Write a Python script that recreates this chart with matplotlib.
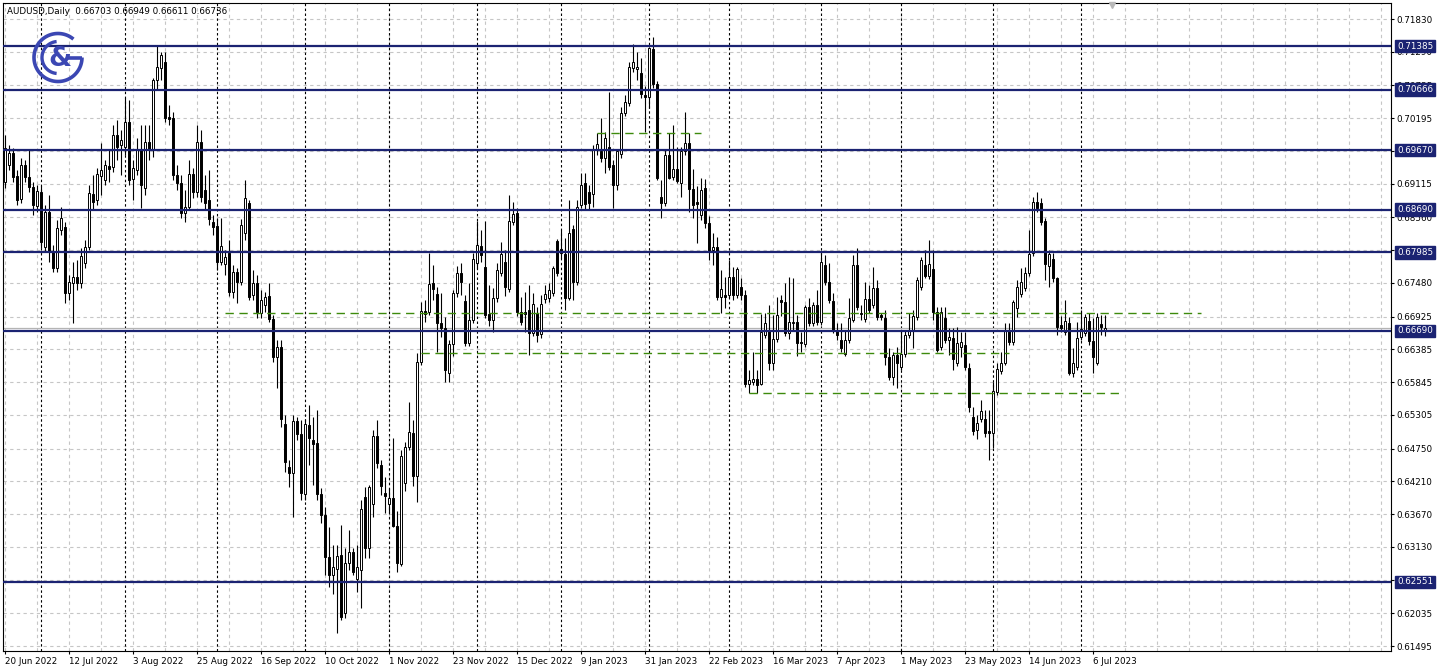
import numpy as np
import pandas as pd
import matplotlib
matplotlib.use("Agg")
import matplotlib.pyplot as plt
from matplotlib import transforms

opens = [
    0.6914, 0.6942, 0.6962, 0.6924, 0.6886, 0.6942, 0.6923, 0.6906, 0.6875, 0.6898,
    0.6807, 0.6865, 0.6799, 0.6773, 0.6835, 0.6840, 0.6732, 0.6748, 0.6758, 0.6748,
    0.6781, 0.6807, 0.6895, 0.6885, 0.6925, 0.6918, 0.6941, 0.6939, 0.6992, 0.6975,
    0.6972, 0.7013, 0.6919, 0.6934, 0.6967, 0.6904, 0.6980, 0.6967, 0.7082, 0.7102,
    0.7112, 0.7022, 0.7020, 0.6926, 0.6913, 0.6863, 0.6873, 0.6928, 0.6898, 0.6980,
    0.6901, 0.6885, 0.6848, 0.6842, 0.6783, 0.6779, 0.6797, 0.6733, 0.6766, 0.6750,
    0.6830, 0.6880, 0.6728, 0.6748, 0.6699, 0.6712, 0.6727, 0.6689, 0.6626, 0.6643,
    0.6516, 0.6445, 0.6435, 0.6520, 0.6499, 0.6400, 0.6514, 0.6489, 0.6484, 0.6400,
    0.6366, 0.6296, 0.6267, 0.6277, 0.6300, 0.6204, 0.6287, 0.6305, 0.6260, 0.6275,
    0.6395, 0.6311, 0.6384, 0.6496, 0.6448, 0.6402, 0.6384, 0.6394, 0.6347, 0.6285,
    0.6418, 0.6478, 0.6501, 0.6430, 0.6618, 0.6702, 0.6700, 0.6748, 0.6730, 0.6682,
    0.6674, 0.6600, 0.6647, 0.6732, 0.6764, 0.6718, 0.6649, 0.6687, 0.6781, 0.6809,
    0.6774, 0.6697, 0.6687, 0.6723, 0.6764, 0.6783, 0.6738, 0.6848, 0.6863, 0.6700,
    0.6700, 0.6703, 0.6666, 0.6699, 0.6664, 0.6722, 0.6723, 0.6732, 0.6817, 0.6804,
    0.6796, 0.6723, 0.6837, 0.6750, 0.6877, 0.6913, 0.6898, 0.6895, 0.6967, 0.6965,
    0.6954, 0.6972, 0.6942, 0.6910, 0.6961, 0.7028, 0.7045, 0.7102, 0.7101, 0.7094,
    0.7058, 0.7054, 0.7134, 0.7076, 0.6890, 0.6880, 0.6959, 0.6923, 0.6936, 0.6913,
    0.6965, 0.6979, 0.6903, 0.6881, 0.6860, 0.6904, 0.6847, 0.6802, 0.6807, 0.6725,
    0.6728, 0.6728, 0.6758, 0.6728, 0.6741, 0.6728, 0.6582, 0.6585, 0.6590, 0.6582,
    0.6662, 0.6670, 0.6616, 0.6656, 0.6720, 0.6717, 0.6666, 0.6682, 0.6684, 0.6651,
    0.6647, 0.6708, 0.6682, 0.6712, 0.6684, 0.6778, 0.6750, 0.6718, 0.6669, 0.6654,
    0.6631, 0.6654, 0.6687, 0.6778, 0.6697, 0.6689, 0.6722, 0.6712, 0.6740, 0.6695,
    0.6690, 0.6626, 0.6593, 0.6629, 0.6610, 0.6631, 0.6662, 0.6670, 0.6692, 0.6741,
    0.6778, 0.6759, 0.6771, 0.6700, 0.6643, 0.6690, 0.6654, 0.6657, 0.6616, 0.6643,
    0.6646, 0.6608, 0.6527, 0.6506, 0.6524, 0.6524, 0.6504, 0.6501, 0.6568, 0.6603,
    0.6616, 0.6669, 0.6651, 0.6707, 0.6730, 0.6740, 0.6764, 0.6797, 0.6881, 0.6880,
    0.6850, 0.6776, 0.6788, 0.6756, 0.6679, 0.6667, 0.6682, 0.6600, 0.6610, 0.6659,
    0.6666, 0.6685, 0.6652, 0.6616, 0.6680, 0.66703,
]
highs = [
    0.6992, 0.6975, 0.6970, 0.6934, 0.6954, 0.6951, 0.6967, 0.6914, 0.6910, 0.6908,
    0.6877, 0.6893, 0.6811, 0.6852, 0.6873, 0.6848, 0.6761, 0.6783, 0.6786, 0.6806,
    0.6819, 0.6910, 0.6926, 0.6937, 0.6979, 0.6951, 0.6967, 0.7008, 0.7017, 0.7000,
    0.7053, 0.7050, 0.6951, 0.6987, 0.7008, 0.7008, 0.7008, 0.7086, 0.7140, 0.7129,
    0.7129, 0.7041, 0.7030, 0.6942, 0.6926, 0.6901, 0.6951, 0.6937, 0.7008, 0.7000,
    0.6926, 0.6934, 0.6860, 0.6855, 0.6855, 0.6802, 0.6819, 0.6778, 0.6773, 0.6853,
    0.6918, 0.6885, 0.6769, 0.6761, 0.6736, 0.6733, 0.6748, 0.6695, 0.6654, 0.6654,
    0.6530, 0.6456, 0.6530, 0.6527, 0.6522, 0.6524, 0.6547, 0.6527, 0.6539, 0.6410,
    0.6379, 0.6346, 0.6316, 0.6316, 0.6349, 0.6311, 0.6341, 0.6311, 0.6316, 0.6390,
    0.6412, 0.6415, 0.6506, 0.6522, 0.6456, 0.6428, 0.6410, 0.6492, 0.6372, 0.6473,
    0.6486, 0.6552, 0.6522, 0.6633, 0.6717, 0.6720, 0.6797, 0.6778, 0.6741, 0.6732,
    0.6692, 0.6654, 0.6736, 0.6776, 0.6781, 0.6728, 0.6748, 0.6797, 0.6850, 0.6835,
    0.6850, 0.6745, 0.6740, 0.6781, 0.6816, 0.6802, 0.6893, 0.6881, 0.6872, 0.6725,
    0.6733, 0.6745, 0.6732, 0.6708, 0.6728, 0.6745, 0.6748, 0.6776, 0.6820, 0.6835,
    0.6822, 0.6885, 0.6844, 0.6885, 0.6929, 0.6929, 0.6910, 0.6975, 0.6995, 0.7020,
    0.6997, 0.7063, 0.6951, 0.6967, 0.7038, 0.7058, 0.7112, 0.7142, 0.7129, 0.7119,
    0.7073, 0.7137, 0.7153, 0.7081, 0.6918, 0.6967, 0.6995, 0.7008, 0.6972, 0.6972,
    0.7030, 0.6995, 0.6936, 0.6908, 0.6921, 0.6919, 0.6858, 0.6830, 0.6824, 0.6769,
    0.6758, 0.6786, 0.6774, 0.6774, 0.6756, 0.6736, 0.6605, 0.6634, 0.6605, 0.6697,
    0.6699, 0.6712, 0.6695, 0.6725, 0.6728, 0.6748, 0.6758, 0.6756, 0.6695, 0.6667,
    0.6712, 0.6723, 0.6717, 0.6736, 0.6797, 0.6794, 0.6781, 0.6732, 0.6682, 0.6682,
    0.6670, 0.6723, 0.6794, 0.6806, 0.6712, 0.6750, 0.6745, 0.6774, 0.6753, 0.6699,
    0.6703, 0.6641, 0.6634, 0.6643, 0.6670, 0.6670, 0.6699, 0.6703, 0.6758, 0.6791,
    0.6802, 0.6819, 0.6802, 0.6708, 0.6708, 0.6708, 0.6674, 0.6674, 0.6676, 0.6667,
    0.6667, 0.6616, 0.6544, 0.6530, 0.6555, 0.6539, 0.6539, 0.6585, 0.6616, 0.6634,
    0.6682, 0.6682, 0.6720, 0.6753, 0.6773, 0.6774, 0.6835, 0.6890, 0.6898, 0.6888,
    0.6855, 0.6802, 0.6797, 0.6758, 0.6694, 0.6720, 0.6692, 0.6641, 0.6684, 0.6703,
    0.6697, 0.6699, 0.6690, 0.6699, 0.6695, 0.66949,
]
lows = [
    0.6904, 0.6934, 0.6914, 0.6877, 0.6880, 0.6914, 0.6898, 0.6860, 0.6865, 0.6806,
    0.6799, 0.6783, 0.6766, 0.6766, 0.6827, 0.6715, 0.6720, 0.6682, 0.6736, 0.6740,
    0.6773, 0.6802, 0.6868, 0.6877, 0.6893, 0.6910, 0.6914, 0.6931, 0.6951, 0.6926,
    0.6959, 0.6910, 0.6885, 0.6926, 0.6872, 0.6893, 0.6951, 0.6956, 0.7066, 0.7082,
    0.7013, 0.7008, 0.6918, 0.6901, 0.6855, 0.6848, 0.6868, 0.6888, 0.6890, 0.6881,
    0.6868, 0.6844, 0.6827, 0.6769, 0.6778, 0.6761, 0.6727, 0.6723, 0.6715, 0.6745,
    0.6819, 0.6720, 0.6720, 0.6690, 0.6690, 0.6700, 0.6684, 0.6618, 0.6575, 0.6511,
    0.6436, 0.6412, 0.6362, 0.6489, 0.6390, 0.6390, 0.6448, 0.6415, 0.6390, 0.6352,
    0.6267, 0.6247, 0.6235, 0.6171, 0.6193, 0.6196, 0.6275, 0.6267, 0.6239, 0.6212,
    0.6295, 0.6295, 0.6362, 0.6443, 0.6399, 0.6369, 0.6369, 0.6346, 0.6272, 0.6282,
    0.6405, 0.6473, 0.6413, 0.6387, 0.6613, 0.6684, 0.6695, 0.6720, 0.6634, 0.6659,
    0.6585, 0.6585, 0.6628, 0.6725, 0.6728, 0.6644, 0.6644, 0.6682, 0.6773, 0.6783,
    0.6690, 0.6677, 0.6667, 0.6717, 0.6759, 0.6727, 0.6733, 0.6844, 0.6694, 0.6679,
    0.6667, 0.6629, 0.6661, 0.6651, 0.6657, 0.6715, 0.6717, 0.6727, 0.6759, 0.6789,
    0.6703, 0.6720, 0.6720, 0.6745, 0.6872, 0.6868, 0.6868, 0.6873, 0.6959, 0.6947,
    0.6929, 0.6934, 0.6872, 0.6901, 0.6954, 0.7023, 0.7040, 0.7096, 0.7082, 0.7053,
    0.6997, 0.7036, 0.7069, 0.6918, 0.6855, 0.6875, 0.6919, 0.6918, 0.6913, 0.6890,
    0.6959, 0.6865, 0.6855, 0.6814, 0.6852, 0.6839, 0.6786, 0.6778, 0.6720, 0.6699,
    0.6707, 0.6723, 0.6720, 0.6723, 0.6720, 0.6577, 0.6567, 0.6580, 0.6567, 0.6580,
    0.6657, 0.6605, 0.6605, 0.6651, 0.6694, 0.6661, 0.6656, 0.6670, 0.6628, 0.6634,
    0.6643, 0.6677, 0.6677, 0.6679, 0.6679, 0.6745, 0.6715, 0.6666, 0.6654, 0.6634,
    0.6628, 0.6649, 0.6684, 0.6703, 0.6687, 0.6684, 0.6699, 0.6707, 0.6687, 0.6687,
    0.6613, 0.6588, 0.6580, 0.6575, 0.6605, 0.6626, 0.6657, 0.6641, 0.6687, 0.6736,
    0.6756, 0.6755, 0.6687, 0.6634, 0.6638, 0.6649, 0.6629, 0.6605, 0.6611, 0.6626,
    0.6605, 0.6535, 0.6497, 0.6491, 0.6519, 0.6494, 0.6456, 0.6476, 0.6563, 0.6598,
    0.6613, 0.6646, 0.6646, 0.6692, 0.6725, 0.6735, 0.6759, 0.6792, 0.6865, 0.6844,
    0.6753, 0.6741, 0.6750, 0.6662, 0.6667, 0.6662, 0.6596, 0.6593, 0.6605, 0.6654,
    0.6661, 0.6646, 0.6600, 0.6613, 0.6662, 0.66611,
]
closes = [
    0.6970, 0.6962, 0.6923, 0.6885, 0.6942, 0.6923, 0.6906, 0.6877, 0.6900, 0.6816,
    0.6865, 0.6799, 0.6773, 0.6839, 0.6855, 0.6732, 0.6750, 0.6758, 0.6748, 0.6792,
    0.6807, 0.6896, 0.6881, 0.6928, 0.6934, 0.6942, 0.6936, 0.6992, 0.6972, 0.6984,
    0.7013, 0.6918, 0.6937, 0.6967, 0.6910, 0.6980, 0.6967, 0.7082, 0.7104, 0.7124,
    0.7020, 0.7018, 0.6926, 0.6913, 0.6863, 0.6873, 0.6928, 0.6898, 0.6980, 0.6890,
    0.6880, 0.6853, 0.6840, 0.6783, 0.6809, 0.6791, 0.6733, 0.6766, 0.6750, 0.6844,
    0.6888, 0.6725, 0.6748, 0.6700, 0.6720, 0.6725, 0.6689, 0.6626, 0.6643, 0.6524,
    0.6453, 0.6435, 0.6520, 0.6499, 0.6402, 0.6516, 0.6492, 0.6483, 0.6400, 0.6366,
    0.6296, 0.6267, 0.6280, 0.6298, 0.6198, 0.6287, 0.6305, 0.6272, 0.6280, 0.6376,
    0.6311, 0.6412, 0.6496, 0.6451, 0.6413, 0.6397, 0.6394, 0.6347, 0.6287, 0.6463,
    0.6478, 0.6502, 0.6430, 0.6618, 0.6702, 0.6697, 0.6746, 0.6738, 0.6682, 0.6674,
    0.6605, 0.6647, 0.6732, 0.6764, 0.6750, 0.6649, 0.6687, 0.6788, 0.6811, 0.6794,
    0.6695, 0.6687, 0.6723, 0.6769, 0.6796, 0.6741, 0.6850, 0.6862, 0.6700, 0.6684,
    0.6697, 0.6666, 0.6713, 0.6662, 0.6713, 0.6730, 0.6736, 0.6773, 0.6764, 0.6797,
    0.6723, 0.6830, 0.6750, 0.6873, 0.6910, 0.6878, 0.6880, 0.6967, 0.6977, 0.6954,
    0.6987, 0.6939, 0.6910, 0.6965, 0.7028, 0.7046, 0.7104, 0.7112, 0.7104, 0.7059,
    0.7054, 0.7135, 0.7076, 0.6921, 0.6880, 0.6959, 0.6921, 0.6936, 0.6916, 0.6965,
    0.6979, 0.6903, 0.6877, 0.6878, 0.6901, 0.6847, 0.6799, 0.6807, 0.6725, 0.6738,
    0.6725, 0.6758, 0.6728, 0.6771, 0.6728, 0.6582, 0.6588, 0.6590, 0.6580, 0.6667,
    0.6682, 0.6616, 0.6656, 0.6695, 0.6717, 0.6666, 0.6684, 0.6684, 0.6649, 0.6649,
    0.6708, 0.6682, 0.6712, 0.6684, 0.6783, 0.6750, 0.6720, 0.6670, 0.6662, 0.6641,
    0.6654, 0.6690, 0.6778, 0.6708, 0.6699, 0.6722, 0.6703, 0.6740, 0.6692, 0.6692,
    0.6626, 0.6593, 0.6629, 0.6616, 0.6631, 0.6662, 0.6670, 0.6694, 0.6753, 0.6786,
    0.6759, 0.6779, 0.6700, 0.6638, 0.6700, 0.6654, 0.6659, 0.6623, 0.6649, 0.6651,
    0.6610, 0.6544, 0.6504, 0.6517, 0.6537, 0.6501, 0.6501, 0.6570, 0.6606, 0.6616,
    0.6669, 0.6651, 0.6717, 0.6741, 0.6750, 0.6764, 0.6796, 0.6881, 0.6872, 0.6848,
    0.6779, 0.6796, 0.6756, 0.6675, 0.6674, 0.6685, 0.6600, 0.6616, 0.6657, 0.6672,
    0.6692, 0.6652, 0.6626, 0.6692, 0.6675, 0.66736,
]

levels = [0.71385, 0.70666, 0.69670, 0.68690, 0.67985, 0.66690, 0.62551]
dash_levels = [0.6995, 0.6698, 0.6633, 0.6567]
dash_start = [148, 55, 104, 186]
dash_end = [174, 299, 251, 279]
price_ticks = [0.71830, 0.71290, 0.70735, 0.70195, 0.69655, 0.69115, 0.68560, 0.68020,
               0.67480, 0.66925, 0.66385, 0.65845, 0.65305, 0.64750, 0.64210, 0.63670,
               0.63130, 0.62590, 0.62035, 0.61495]
date_labels = ["20 Jun 2022", "12 Jul 2022", "3 Aug 2022", "25 Aug 2022", "16 Sep 2022",
               "10 Oct 2022", "1 Nov 2022", "23 Nov 2022", "15 Dec 2022", "9 Jan 2023",
               "31 Jan 2023", "22 Feb 2023", "16 Mar 2023", "7 Apr 2023", "1 May 2023",
               "23 May 2023", "14 Jun 2023", "6 Jul 2023"]
bid = 0.66736

navy = "#1b2372"
green = "#3d8a0c"
grid_gray = "#c6c6c6"
logo_blue = "#3b47b3"

o = np.array(opens)
h = np.array(highs)
l = np.array(lows)
c = np.array(closes)
x = np.arange(len(o))
dates = pd.bdate_range("2022-06-20", periods=len(o) + 1).drop(pd.Timestamp("2022-12-26"))

fig = plt.figure(figsize=(14.38, 6.71), dpi=100)
ax = fig.add_axes([3 / 1438, 20 / 671, 1388 / 1438, 648 / 671])
ax.set_xlim(-0.5, 346.5)
ax.set_ylim(0.61413, 0.72094)

for k in range(0, 347, 8):
    ax.axvline(k, color=grid_gray, lw=0.8, ls=(0, (3, 3)), zorder=0)
for p in price_ticks:
    ax.axhline(p, color=grid_gray, lw=0.8, ls=(0, (3, 3)), zorder=0)

month_starts = [i for i in range(1, len(dates)) if dates[i].month != dates[i - 1].month]
for i in month_starts:
    ax.axvline(i, color="black", lw=0.8, ls=(0, (2.2, 2.2)), zorder=1)

ax.axhline(bid, color="#b4b4b4", lw=0.9, zorder=2)

up = c >= o
ax.vlines(x, l, h, color="black", lw=0.8, zorder=3)
ax.bar(x, np.abs(c - o), bottom=np.minimum(o, c), width=0.6,
       color=np.where(up, "white", "black"), edgecolor="black", linewidth=0.7, zorder=4)

for lv in levels:
    ax.axhline(lv, color=navy, lw=1.6, zorder=5)
ax.hlines(dash_levels, dash_start, dash_end, colors=green, lw=1.0,
          linestyles=(0, (6, 4)), zorder=5)

for s in ax.spines.values():
    s.set_color("black")
    s.set_linewidth(0.8)

ax.yaxis.tick_right()
ax.set_yticks(price_ticks)
ax.set_yticklabels([f"{p:.5f}" for p in price_ticks])
ax.tick_params(axis="y", length=2.5, pad=1.5, labelsize=6.3, direction="out")
ax.set_xticks(range(0, 273, 16))
ax.set_xticklabels(date_labels, ha="left")
ax.tick_params(axis="x", length=2.5, pad=1.5, labelsize=6.3, direction="out")

trans = transforms.blended_transform_factory(ax.transAxes, ax.transData)
trans = transforms.offset_copy(trans, fig=fig, x=4.3, units="points")
for lv in levels:
    ax.text(1.0, lv, f"{lv:.5f}", transform=trans, ha="left", va="center",
            color="white", fontsize=6.3, clip_on=False, zorder=6,
            bbox=dict(boxstyle="square,pad=0.2", fc=navy, ec=navy))

fig.text(7 / 1438, 1 - 11 / 671,
         f"AUDUSD,Daily  {opens[-1]:.5f} {highs[-1]:.5f} {lows[-1]:.5f} {closes[-1]:.5f}",
         fontsize=6.3, va="center", ha="left")

pix = fig.add_axes([0, 0, 1, 1])
pix.set_xlim(0, 1438)
pix.set_ylim(671, 0)
pix.axis("off")
pix.patch.set_alpha(0)
cx, cy = 58, 57.5
t = np.radians(np.linspace(50, 360, 120))
pix.plot(cx + 24 * np.cos(t), cy - 24 * np.sin(t), color=logo_blue, lw=2.6, solid_capstyle="butt")
pix.plot([cx + 9, cx + 24], [cy, cy], color=logo_blue, lw=2.6, solid_capstyle="butt")
t2 = np.radians(np.linspace(95, 265, 80))
pix.plot(cx + 16 * np.cos(t2), cy - 16 * np.sin(t2), color=logo_blue, lw=2.4, solid_capstyle="butt")
pix.text(cx + 2, cy + 1, "&", fontsize=19, color=logo_blue, ha="center", va="center",
         fontweight="bold")
pix.plot(1112, 5, marker="v", ms=5, color="#b8b8b8")

fig.savefig("out.png", dpi=100)
